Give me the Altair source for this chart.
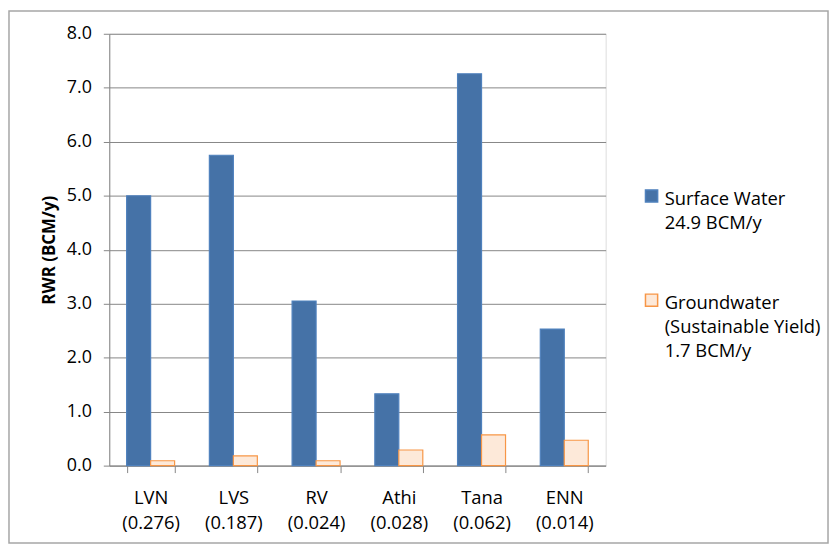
import altair as alt
import pandas as pd

basins = ["LVN", "LVS", "RV", "Athi", "Tana", "ENN"]
basin_sub = ["(0.276)", "(0.187)", "(0.024)", "(0.028)", "(0.062)", "(0.014)"]
surface = [5.0, 5.75, 3.05, 1.33, 7.26, 2.53]
ground = [0.09, 0.18, 0.09, 0.29, 0.57, 0.47]
series = ["Surface Water|24.9 BCM/y", "Groundwater|(Sustainable Yield)|1.7 BCM/y"]
fills = ["#4572A7", "#FDE9D9"]
strokes = ["#4F81BD", "#F79646"]

cats = [f"{b}|{s}" for b, s in zip(basins, basin_sub)]
rows = []
for i, c in enumerate(cats):
    rows.append({"basin": c, "series": series[0], "value": surface[i]})
    rows.append({"basin": c, "series": series[1], "value": ground[i]})
df = pd.DataFrame(rows)

FONT = "Open Sans"

bars = alt.Chart(df).mark_bar(strokeWidth=1.2).encode(
    x=alt.X("basin:N", sort=cats,
            scale=alt.Scale(paddingInner=0.42, paddingOuter=0.21),
            axis=alt.Axis(title=None, labelAngle=0, labelExpr="split(datum.label, '|')",
                          tickBand="extent", tickSize=7, tickColor="#868686",
                          domainColor="#868686", labelFont=FONT, labelFontSize=18.5,
                          labelColor="#000000", labelPadding=16, labelLineHeight=25,
                          grid=False)),
    xOffset=alt.XOffset("series:N", sort=series, scale=alt.Scale(paddingInner=0, paddingOuter=0)),
    y=alt.Y("value:Q", scale=alt.Scale(domain=[0, 8], nice=False),
            axis=alt.Axis(title="RWR (BCM/y)", values=[0, 1, 2, 3, 4, 5, 6, 7, 8],
                          format=".1f", tickSize=6, tickColor="#868686",
                          domainColor="#868686", gridColor="#868686", gridWidth=1,
                          labelFont=FONT, labelFontSize=18, labelColor="#000000",
                          labelPadding=12, titleFont=FONT, titleFontSize=17,
                          titleFontWeight="bold", titleColor="#000000", titlePadding=8)),
    color=alt.Color("series:N", sort=series,
                    scale=alt.Scale(domain=series, range=fills),
                    legend=alt.Legend(title=None, orient="none", legendX=537, legendY=148,
                                      symbolType="M-1,0H1V2H-1Z", symbolSize=150,
                                      symbolStrokeWidth=1.5,
                                      labelExpr="split(datum.label, '|')",
                                      labelFont=FONT, labelFontSize=18.5, labelColor="#000000",
                                      labelBaseline="top", labelOffset=4,
                                      rowPadding=53, labelLimit=300)),
    stroke=alt.Stroke("series:N", sort=series,
                      scale=alt.Scale(domain=series, range=strokes), legend=None),
)

border = alt.Chart(alt.Data(values=[{}])).mark_rect(
    fill=None, stroke="#A6A6A6", strokeWidth=1.5
).encode(x=alt.value(-101), x2=alt.value(724), y=alt.value(-23), y2=alt.value(513))

chart = alt.layer(bars, border).properties(
    width=500, height=435,
    padding={"left": 102, "top": 24, "right": 226, "bottom": 80},
    autosize=alt.AutoSizeParams(type="none"),
).configure_view(stroke=None).configure(
    background="white",
    style={"guide-label": {"lineHeight": 24}},
)

chart.save("out.html", embed_options={"renderer": "svg", "actions": False})
